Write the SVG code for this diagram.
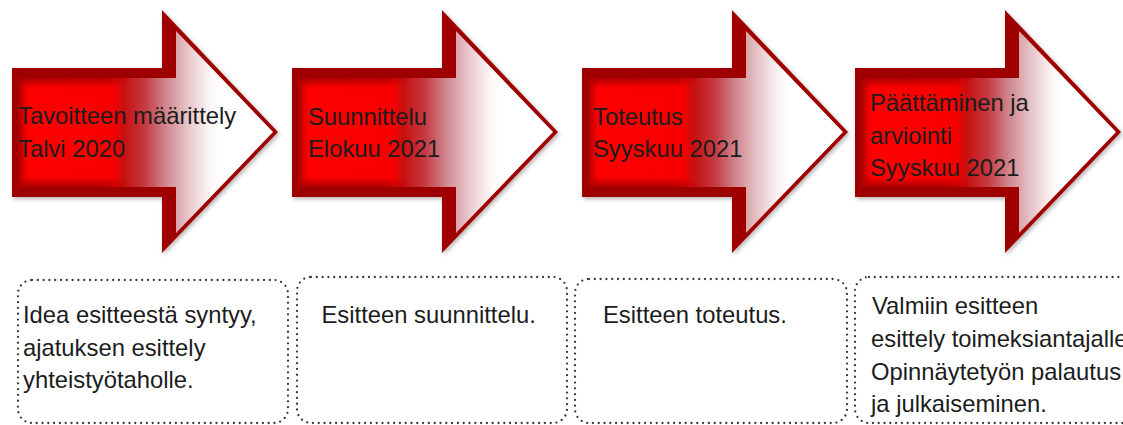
<svg xmlns="http://www.w3.org/2000/svg" xmlns:xlink="http://www.w3.org/1999/xlink" width="1123" height="425" viewBox="0 0 1123 425">
  <style>
    .t { font-family: "Liberation Sans", Arial, sans-serif; font-size: 23.8px; fill: #1c1c1c; }
    .box { fill: none; stroke: #3a3a3a; stroke-width: 2.3; stroke-dasharray: 0 5.8; stroke-linecap: round; }
    .outer { fill: #9e0000; }
  </style>
  <defs>
    <linearGradient id="fade" gradientUnits="userSpaceOnUse" x1="0" y1="0" x2="266" y2="0">
      <stop offset="0" stop-color="#ff0000"/>
      <stop offset="0.38" stop-color="#f80000"/>
      <stop offset="0.42" stop-color="#c81010"/>
      <stop offset="0.50" stop-color="#c43a42"/>
      <stop offset="0.58" stop-color="#d08890"/>
      <stop offset="0.66" stop-color="#e6c4c8"/>
      <stop offset="0.74" stop-color="#fbf4f5"/>
      <stop offset="0.78" stop-color="#ffffff"/>
      <stop offset="1" stop-color="#ffffff"/>
    </linearGradient>
    <linearGradient id="edgeFade" gradientUnits="userSpaceOnUse" x1="0" y1="0" x2="266" y2="0">
      <stop offset="0" stop-color="#a80000" stop-opacity="1"/>
      <stop offset="0.36" stop-color="#a80000" stop-opacity="0.9"/>
      <stop offset="0.44" stop-color="#a80000" stop-opacity="0"/>
      <stop offset="1" stop-color="#a80000" stop-opacity="0"/>
    </linearGradient>
    <filter id="shadow" x="-10%" y="-10%" width="120%" height="120%">
      <feDropShadow dx="1.5" dy="2" stdDeviation="2" flood-color="#000" flood-opacity="0.3"/>
    </filter>
    <filter id="blur" x="-10%" y="-10%" width="120%" height="120%">
      <feGaussianBlur stdDeviation="3"/>
    </filter>
    <path id="outerP" d="M0,68 H150 V10 L266,132 L150,253 V197 H0 Z"/>
    <path id="innerP" d="M6,78 H164 V31 L261,132 L164,233 V187 H6 Z"/>
    <clipPath id="innerClip"><path d="M6,78 H164 V31 L261,132 L164,233 V187 H6 Z"/></clipPath>
    <g id="arrowShape">
      <use xlink:href="#outerP" class="outer" filter="url(#shadow)"/>
      <use xlink:href="#innerP" fill="url(#fade)"/>
      <g clip-path="url(#innerClip)">
        <use xlink:href="#innerP" fill="none" stroke="url(#edgeFade)" stroke-width="10" filter="url(#blur)"/>
      </g>
    </g>
  </defs>

  <rect width="1123" height="425" fill="#ffffff"/>

  <g id="arrow1">
    <use xlink:href="#arrowShape" x="12" y="0"/>
    <text class="t" x="18" y="124">Tavoitteen määrittely</text>
    <text class="t" x="18" y="157">Talvi 2020</text>
  </g>
  <g id="arrow2">
    <use xlink:href="#arrowShape" x="292" y="0"/>
    <text class="t" x="308" y="125">Suunnittelu</text>
    <text class="t" x="308" y="157">Elokuu 2021</text>
  </g>
  <g id="arrow3">
    <use xlink:href="#arrowShape" x="582" y="0"/>
    <text class="t" x="593" y="125">Toteutus</text>
    <text class="t" x="593" y="157">Syyskuu 2021</text>
  </g>
  <g id="arrow4">
    <use xlink:href="#arrowShape" x="855" y="0"/>
    <text class="t" x="870" y="111">Päättäminen ja</text>
    <text class="t" x="870" y="143.5">arviointi</text>
    <text class="t" x="870" y="176">Syyskuu 2021</text>
  </g>

  <g id="box1">
    <rect class="box" x="18" y="280" width="270" height="143" rx="14"/>
    <text class="t" x="23" y="323">Idea esitteestä syntyy,</text>
    <text class="t" x="23" y="355.5">ajatuksen esittely</text>
    <text class="t" x="23" y="388">yhteistyötaholle.</text>
  </g>
  <g id="box2">
    <rect class="box" x="297" y="277" width="270" height="146" rx="14"/>
    <text class="t" x="321.5" y="323">Esitteen suunnittelu.</text>
  </g>
  <g id="box3">
    <rect class="box" x="575" y="279" width="272" height="144" rx="14"/>
    <text class="t" x="603" y="323">Esitteen toteutus.</text>
  </g>
  <g id="box4">
    <rect class="box" x="855" y="277" width="300" height="146" rx="14"/>
    <text class="t" x="872" y="314">Valmiin esitteen</text>
    <text class="t" x="871" y="346.5">esittely toimeksiantajalle</text>
    <text class="t" x="871" y="379.5">Opinnäytetyön palautus</text>
    <text class="t" x="871" y="412">ja julkaiseminen.</text>
  </g>
</svg>
